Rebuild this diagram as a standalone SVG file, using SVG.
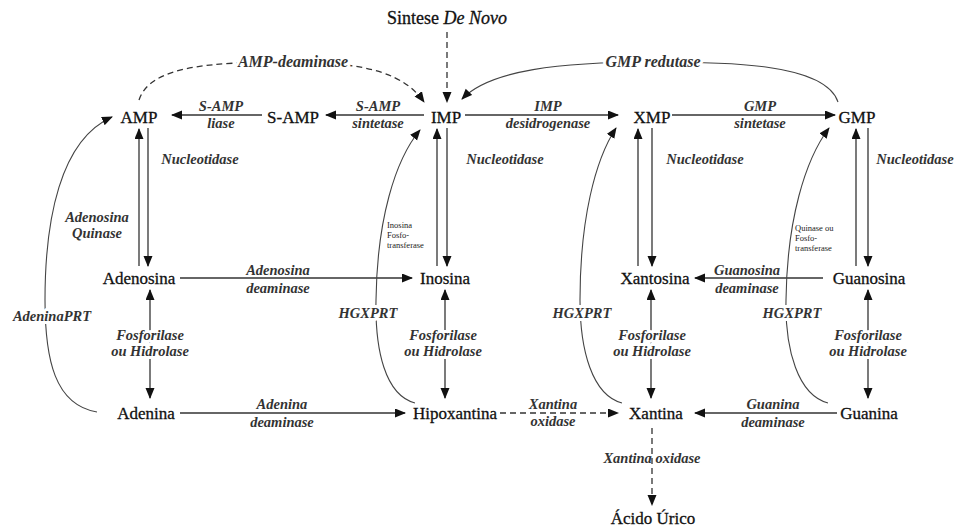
<svg xmlns="http://www.w3.org/2000/svg" width="959" height="532" viewBox="0 0 959 532">
<defs>
<marker id="ah" markerUnits="userSpaceOnUse" markerWidth="12" markerHeight="10" refX="10" refY="4.5" orient="auto-start-reverse" viewBox="0 0 12 10">
<path d="M0,0 L11,4.5 L0,9 z" fill="#111"/>
</marker>
<style>
.node{font-family:"Liberation Serif","Times New Roman",serif;font-size:17px;fill:#111;stroke:#111;stroke-width:0.3px;text-anchor:middle}
.lab{font-family:"Liberation Serif","Times New Roman",serif;font-size:14.5px;font-style:italic;font-weight:bold;fill:#333;text-anchor:middle}
.big{font-size:16px}
.sm{font-family:"Liberation Serif","Times New Roman",serif;font-size:8.5px;fill:#222;text-anchor:start}
.halo{paint-order:stroke;stroke:#fff;stroke-width:6px;stroke-linejoin:round}
.ln{fill:none;stroke:#333;stroke-width:1.3}
.ar{marker-end:url(#ah)}
.ar2{marker-start:url(#ah);marker-end:url(#ah)}
.ds{stroke-dasharray:6 4}
.cv{fill:none;stroke:#444;stroke-width:1.1}
</style>
</defs>
<rect width="959" height="532" fill="#fff"/>
<g id="connectors">
<path class="ln ds ar" d="M447,32 L447,102"/>
<path class="ln ds ar" d="M139,100 C150,66 210,62 290,62 C370,62 405,75 424,102"/>
<path class="cv ar" d="M838,102 C825,62 720,62 653,62 C560,62 490,70 462,99"/>
<path class="ln ar" d="M262,115 L172,115"/>
<path class="ln ar" d="M424,115 L326,115"/>
<path class="ln ar" d="M465,115 L618,115"/>
<path class="ln ar" d="M672,115 L835,115"/>
<path class="ln ar" d="M139,266 L139,129"/>
<path class="ln ar" d="M148,128 L148,266"/>
<path class="ln ar" d="M437,266 L437,129"/>
<path class="ln ar" d="M447,128 L447,266"/>
<path class="ln ar" d="M638,266 L638,129"/>
<path class="ln ar" d="M652,128 L652,266"/>
<path class="ln ar" d="M856,266 L856,129"/>
<path class="ln ar" d="M868,128 L868,266"/>
<path class="ln ar" d="M180,278 L412,278"/>
<path class="ln ar" d="M823,278 L695,278"/>
<path class="ln ar2" d="M150,290 L150,398"/>
<path class="ln ar2" d="M445,290 L445,398"/>
<path class="ln ar2" d="M651,290 L651,398"/>
<path class="ln ar2" d="M868,290 L868,398"/>
<path class="ln ar" d="M180,413 L405,413"/>
<path class="ln ds ar" d="M500,413 L618,413"/>
<path class="ln ar" d="M837,413 L695,413"/>
<path class="ln ds ar" d="M652,428 L652,505"/>
<path class="cv ar" d="M97,412 C55,405 45,360 45,300 C45,220 60,140 112,117"/>
<path class="cv ar" d="M415,403 C385,395 375,350 376,300 C377,220 395,160 420,130"/>
<path class="cv ar" d="M622,403 C592,395 580,350 580,300 C580,220 595,160 616,128"/>
<path class="cv ar" d="M828,403 C798,395 785,350 786,300 C787,220 805,160 829,128"/>
</g>
<g id="labels">
<text class="lab big halo" x="293" y="67">AMP-deaminase</text>
<text class="lab big halo" x="653" y="67">GMP redutase</text>
<text class="lab" x="221" y="111">S-AMP</text><text class="lab" x="221" y="128">liase</text>
<text class="lab" x="378" y="111">S-AMP</text><text class="lab" x="378" y="128">sintetase</text>
<text class="lab" x="548" y="111">IMP</text><text class="lab" x="548" y="128">desidrogenase</text>
<text class="lab" x="760" y="111">GMP</text><text class="lab" x="760" y="128">sintetase</text>
<text class="lab" x="200" y="164">Nucleotidase</text>
<text class="lab" x="505" y="164">Nucleotidase</text>
<text class="lab" x="705" y="164">Nucleotidase</text>
<text class="lab" x="915" y="164">Nucleotidase</text>
<text class="lab" x="97" y="222">Adenosina</text><text class="lab" x="97" y="238">Quinase</text>
<text class="sm" x="387" y="228">Inosina</text><text class="sm" x="387" y="238">Fosfo-</text><text class="sm" x="387" y="248">transferase</text>
<text class="sm" x="795" y="231">Quinase ou</text><text class="sm" x="795" y="241">Fosfo-</text><text class="sm" x="795" y="251">transferase</text>
<text class="lab" x="278" y="275">Adenosina</text><text class="lab" x="278" y="293">deaminase</text>
<text class="lab" x="747" y="275">Guanosina</text><text class="lab" x="747" y="293">deaminase</text>
<text class="lab halo" x="52" y="321">AdeninaPRT</text>
<text class="lab halo" x="368" y="318">HGXPRT</text>
<text class="lab halo" x="582" y="318">HGXPRT</text>
<text class="lab halo" x="792" y="318">HGXPRT</text>
<text class="lab halo" x="150" y="340">Fosforilase</text><text class="lab halo" x="150" y="356">ou Hidrolase</text>
<text class="lab halo" x="443" y="340">Fosforilase</text><text class="lab halo" x="443" y="356">ou Hidrolase</text>
<text class="lab halo" x="652" y="340">Fosforilase</text><text class="lab halo" x="652" y="356">ou Hidrolase</text>
<text class="lab halo" x="868" y="340">Fosforilase</text><text class="lab halo" x="868" y="356">ou Hidrolase</text>
<text class="lab" x="282" y="409">Adenina</text><text class="lab" x="282" y="427">deaminase</text>
<text class="lab" x="553" y="409">Xantina</text><text class="lab" x="553" y="426">oxidase</text>
<text class="lab" x="773" y="409">Guanina</text><text class="lab" x="773" y="427">deaminase</text>
<text class="lab" x="652" y="463">Xantina oxidase</text>
</g>
<g id="n-denovo"><text class="node" x="447" y="24" style="font-size:18px">Sintese <tspan font-style="italic">De Novo</tspan></text></g>
<g id="n-amp"><text class="node" x="139" y="123">AMP</text></g>
<g id="n-samp"><text class="node" x="293" y="123">S-AMP</text></g>
<g id="n-imp"><text class="node" x="446" y="123">IMP</text></g>
<g id="n-xmp"><text class="node" x="652" y="123">XMP</text></g>
<g id="n-gmp"><text class="node" x="857" y="123">GMP</text></g>
<g id="n-adenosina"><text class="node" x="139" y="284">Adenosina</text></g>
<g id="n-inosina"><text class="node" x="445" y="284">Inosina</text></g>
<g id="n-xantosina"><text class="node" x="655" y="284">Xantosina</text></g>
<g id="n-guanosina"><text class="node" x="869" y="284">Guanosina</text></g>
<g id="n-adenina"><text class="node" x="146" y="419">Adenina</text></g>
<g id="n-hipoxantina"><text class="node" x="455" y="419">Hipoxantina</text></g>
<g id="n-xantina"><text class="node" x="656" y="419">Xantina</text></g>
<g id="n-guanina"><text class="node" x="869" y="419">Guanina</text></g>
<g id="n-acido"><text class="node" x="653" y="524">Ácido Úrico</text></g>
</svg>
